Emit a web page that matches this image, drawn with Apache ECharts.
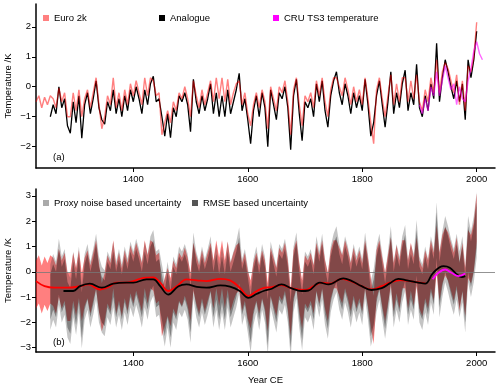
<!DOCTYPE html>
<html>
<head>
<meta charset="utf-8">
<script src="https://cdn.jsdelivr.net/npm/echarts@6/dist/echarts.min.js"></script>
<style>
html, body { margin: 0; padding: 0; background: #fff; }
#chart { width: 500px; height: 392px; }
</style>
</head>
<body>
<div id="chart"></div>
<script>
// yearly data at 5-year steps
const step = 5;
const euroStart = 1230;
const analogueStart = 1255;
const cruStart = 1900;

const euro2k = [
  -0.5, -0.3, -0.7, -0.35, -0.6, -0.3,
  -0.4, -0.7, -0.05, -0.5, -0.2, -1.0, -1.0, -0.2, -0.8, -0.1, -1.0,
  -0.4, -0.1, -0.7, -0.2, 0.3, -0.6, -1.4, -1.0, -0.3, -0.6, 0.3, -0.7, -0.2, -0.8,
  -0.1, -0.6, 0.1, -0.3, 0.2, -0.2, -0.6, 0.3, -0.3, 0.3, 0.2, -0.3,
  -0.2, -1.6, -1.2, -0.8, -1.2, -0.5, -0.8, -0.2, -0.4, 0.0, -0.4, -1.0,
  0.2, -0.3, -0.7, -0.1, -0.6, -0.2, 0.2, -0.5, 0.3, -0.4, 0.3, -0.5, 0.25, -0.6, -0.2, 0.1, 0.2, -0.6, -0.2, -0.9, -1.3,
  -0.6, -0.2, -0.7, -0.1, -0.5, -1.4, 0.0,
  -0.4, -0.8, 0.0, -0.2, 0.2, -0.5, -1.6, -0.1, 0.3, -0.6, -1.3, -0.3,
  -0.5, -0.2, -0.7, 0.2, -0.3, 0.3, -0.5, -1.0, -0.1, 0.3, 0.3, 0.0,
  -0.3, 0.3, -0.1, -0.6, 0.0, -0.5, -0.1, -0.6, 0.3, -0.4, -1.2, -1.9, -0.1, 0.3, -0.4, -1.0,
  -0.3, 0.4, -0.6, 0.1, -0.5, 0.3, 0.3, -0.5, 0.2, -0.4, 0.4, -0.5,
  -0.8, -0.1, -0.5, 0.3, -0.2, 0.9, -0.2, 0.5, 0.8, 0.6, 0.2, -0.2, 0.4, -0.6, 0.2, -0.8, 0.7, 0.5, 1.0, 2.15
];

const analogue = [
  -1.0, -0.6, -0.9, 0.0, -0.7, -0.4, -1.3, -1.55, -0.5, -1.2, -0.3, -1.72,
  -0.6, -0.2, -0.9, -0.4, 0.2, -0.7, -1.1, -1.25, -0.5, -0.8, -0.1, -0.9, -0.4, -1.0,
  -0.3, -0.8, -0.1, -0.5, 0.0, -0.4, -0.9, -0.1, -0.6, 0.1, 0.35, -0.5,
  -0.4, -1.0, -1.65, -0.9, -1.7, -0.7, -1.0, -0.3, -0.5, -0.2, -0.6, -1.5,
  0.25, -0.5, -0.9, -0.3, -0.8, -0.4, 0.1, -0.9, -0.2, -1.0, -0.3, -1.0, -0.1, -0.9, -0.5, -0.1, 0.45, -0.8, -0.4, -1.1, -1.9,
  -0.8, -0.3, -1.0, -0.2, -0.7, -2.0, -0.1,
  -0.6, -1.1, -0.2, -0.4, 0.0, -0.7, -2.1, -0.3, 0.25, -0.9, -1.8, -0.5,
  -0.7, -0.4, -1.0, 0.1, -0.5, 0.2, -0.8, -1.35, -0.3, 0.2, 0.5, -0.2,
  -0.6, 0.1, -0.3, -0.9, -0.2, -0.7, -0.3, -0.8, 0.25, -0.6, -1.65, -1.2, -0.3, 0.2, -0.6, -1.35,
  -0.5, 0.5, -0.9, -0.2, -0.7, 0.1, 0.55, -0.8, -0.2, -0.6, 0.75, -0.7,
  -1.0, -0.3, -0.8, 0.1, -0.4, 1.45, -0.5, 0.3, 0.9, 0.5, 0.0, -0.4, 0.2, -0.5, 0.1, -1.1, 0.9, 0.3, 0.9, 1.85
];

const cru = [
  -0.6, -0.9, -0.4, -0.8, 0.0, -0.3, 0.5, -0.3, 0.2, 0.7, 0.3, -0.1,
  0.1, -0.6, 0.0, -0.4, -0.5, 0.2, 0.6, 1.2, 1.5, 1.1, 0.9
];

// smoothed curves, panel (b)
const smoothRedYears = [1230, 1245, 1262, 1286, 1307, 1321, 1342, 1359, 1370, 1388, 1400, 1418, 1435, 1447, 1461, 1476, 1493, 1511, 1528, 1552, 1569, 1586, 1601, 1616, 1630, 1642, 1659, 1677, 1700, 1715, 1729, 1744, 1764, 1782, 1799, 1816, 1834, 1848, 1866, 1883, 1901, 1910];
const smoothRed = [-0.37, -0.57, -0.63, -0.63, -0.57, -0.5, -0.7, -0.57, -0.43, -0.43, -0.37, -0.24, -0.22, -0.43, -0.76, -0.57, -0.3, -0.34, -0.37, -0.28, -0.34, -0.63, -0.96, -0.76, -0.63, -0.61, -0.53, -0.66, -0.72, -0.57, -0.43, -0.47, -0.28, -0.39, -0.57, -0.7, -0.57, -0.43, -0.33, -0.37, -0.43, -0.46];
const smoothBlackYears = [1278, 1295, 1307, 1324, 1345, 1365, 1388, 1400, 1423, 1435, 1447, 1461, 1479, 1493, 1511, 1528, 1552, 1569, 1586, 1601, 1616, 1630, 1642, 1659, 1677, 1694, 1706, 1726, 1741, 1767, 1782, 1799, 1816, 1834, 1848, 1863, 1878, 1898, 1910, 1924, 1942, 1953, 1965, 1974, 1980];
const smoothBlack = [-0.76, -0.76, -0.57, -0.47, -0.63, -0.47, -0.43, -0.43, -0.3, -0.3, -0.57, -0.9, -0.57, -0.5, -0.6, -0.63, -0.54, -0.59, -0.76, -1.03, -0.87, -0.74, -0.67, -0.5, -0.66, -0.76, -0.74, -0.43, -0.5, -0.26, -0.37, -0.57, -0.72, -0.65, -0.46, -0.28, -0.34, -0.43, -0.47, -0.04, 0.22, 0.16, -0.1, -0.21, -0.17];
const smoothCruYears = [1923, 1933, 1945, 1956, 1968, 1980];
const smoothCru = [-0.3, -0.04, 0.09, -0.04, -0.17, -0.07];

// uncertainty half-widths (K)
const euroUnc = 0.95;
const rmseUnc = 0.9;
const proxyUnc = 1.3;

const xTicks = [1400, 1600, 1800, 2000];
const yTicksA = [-2, -1, 0, 1, 2];
const yTicksB = [-3, -2, -1, 0, 1, 2, 3];

const font = '"Liberation Sans", Arial, sans-serif';
const minus = (v) => String(v).replace('-', '\u2212');

function series(start, values) {
  return values.map((v, i) => [start + i * step, v]);
}
function zip(years, values) {
  return years.map((y, i) => [y, values[i]]);
}
// band = value +/- half, drawn as one polygon through the axis scales
function band(name, start, values, half, color, z) {
  return {
    name, type: 'custom', xAxisIndex: 1, yAxisIndex: 1, clip: true, silent: true, z,
    encode: { x: 0, y: 1 },
    itemStyle: { color },
    data: [[start, values[0]]],
    renderItem(params, api) {
      const top = values.map((v, i) => api.coord([start + i * step, v + half]));
      const bottom = values.map((v, i) => api.coord([start + i * step, v - half])).reverse();
      return { type: 'polygon', shape: { points: top.concat(bottom) }, style: { fill: color } };
    },
  };
}

function xAxis(gridIndex, extra) {
  return Object.assign({
    type: 'value', gridIndex, min: 1230, max: 2032,
    axisLine: { show: true, onZero: false, lineStyle: { color: '#000', width: 1.5 } },
    axisTick: { show: true, length: 4, customValues: xTicks, lineStyle: { color: '#000' } },
    axisLabel: { customValues: xTicks, color: '#000', fontSize: 9.5, fontFamily: font, margin: 6,
      formatter: (v) => String(v) },
    splitLine: { show: false },
  }, extra);
}
function yAxis(gridIndex, min, max, ticks) {
  return {
    type: 'value', gridIndex, min, max,
    name: 'Temperature /K', nameLocation: 'middle', nameGap: 23, nameMoveOverlap: false,
    nameTextStyle: { color: '#000', fontSize: 9.5, fontFamily: font },
    axisLine: { show: true, lineStyle: { color: '#000', width: 1.5 } },
    axisTick: { show: true, length: 4, customValues: ticks, lineStyle: { color: '#000' } },
    axisLabel: { customValues: ticks, color: '#000', fontSize: 9.5, fontFamily: font, margin: 5, formatter: minus },
    splitLine: { show: false },
  };
}
function legend(name, color, left, top) {
  return {
    data: [{ name, itemStyle: { color } }], left, top, icon: 'rect',
    itemWidth: 6, itemHeight: 6, selectedMode: false, padding: 0,
    textStyle: { color: '#000', fontSize: 9.5, fontFamily: font },
  };
}

const chart = echarts.init(document.getElementById('chart'), null, { renderer: 'canvas' });
chart.setOption({
  animation: false,
  backgroundColor: '#fff',
  grid: [
    { left: 36, right: 5, top: 4, height: 164, outerBoundsMode: 'none' },
    { left: 36, right: 5, top: 189, height: 163, outerBoundsMode: 'none' },
  ],
  xAxis: [
    xAxis(0, {}),
    xAxis(1, { name: 'Year CE', nameLocation: 'middle', nameGap: 23, nameMoveOverlap: false,
      nameTextStyle: { color: '#000', fontSize: 9.5, fontFamily: font } }),
  ],
  yAxis: [yAxis(0, -2.71, 2.76, yTicksA), yAxis(1, -3.17, 3.27, yTicksB)],
  legend: [
    legend('Euro 2k', '#ff8080', 43, 13),
    legend('Analogue', '#000', 159, 13),
    legend('CRU TS3 temperature', '#ff00ff', 273, 13),
    legend('Proxy noise based uncertainty', '#aaaaaa', 43, 198),
    legend('RMSE based uncertainty', '#555555', 192, 198),
  ],
  graphic: [
    { type: 'text', left: 53, top: 152, style: { text: '(a)', fontSize: 9.5, fontFamily: font, fill: '#000' } },
    { type: 'text', left: 53, top: 337, style: { text: '(b)', fontSize: 9.5, fontFamily: font, fill: '#000' } },
  ],
  series: [
    { name: 'Analogue', type: 'line', xAxisIndex: 0, yAxisIndex: 0, data: series(analogueStart, analogue),
      showSymbol: false, lineStyle: { color: '#000', width: 1.3 }, itemStyle: { color: '#000' }, z: 2 },
    { name: 'Euro 2k', type: 'line', xAxisIndex: 0, yAxisIndex: 0, data: series(euroStart, euro2k),
      showSymbol: false, lineStyle: { color: 'rgba(255,0,0,0.5)', width: 1.4 }, itemStyle: { color: '#ff8080' }, z: 3 },
    { name: 'CRU TS3 temperature', type: 'line', xAxisIndex: 0, yAxisIndex: 0, data: series(cruStart, cru),
      showSymbol: false, lineStyle: { color: 'rgba(255,0,255,0.6)', width: 1.4 }, itemStyle: { color: '#ff00ff' }, z: 4 },

    band('Euro 2k band', euroStart, euro2k, euroUnc, 'rgba(255,0,0,0.5)', 2),
    band('Proxy noise based uncertainty', analogueStart, analogue, proxyUnc, 'rgba(60,60,60,0.3)', 3),
    band('RMSE based uncertainty', analogueStart, analogue, rmseUnc, 'rgba(10,10,10,0.35)', 4),

    { type: 'line', xAxisIndex: 1, yAxisIndex: 1, data: zip(smoothRedYears, smoothRed), smooth: 0.4,
      showSymbol: false, lineStyle: { color: '#ff0000', width: 1.8 }, z: 6, silent: true,
      markLine: { silent: true, symbol: 'none', label: { show: false },
        lineStyle: { color: '#777', width: 0.8, type: 'solid' }, data: [{ yAxis: 0 }] } },
    { type: 'line', xAxisIndex: 1, yAxisIndex: 1, data: zip(smoothBlackYears, smoothBlack), smooth: 0.4,
      showSymbol: false, lineStyle: { color: '#000', width: 1.8 }, z: 7, silent: true },
    { type: 'line', xAxisIndex: 1, yAxisIndex: 1, data: zip(smoothCruYears, smoothCru), smooth: 0.4,
      showSymbol: false, lineStyle: { color: '#ff00ff', width: 1.8 }, z: 8, silent: true },
  ],
});
</script>
</body>
</html>
